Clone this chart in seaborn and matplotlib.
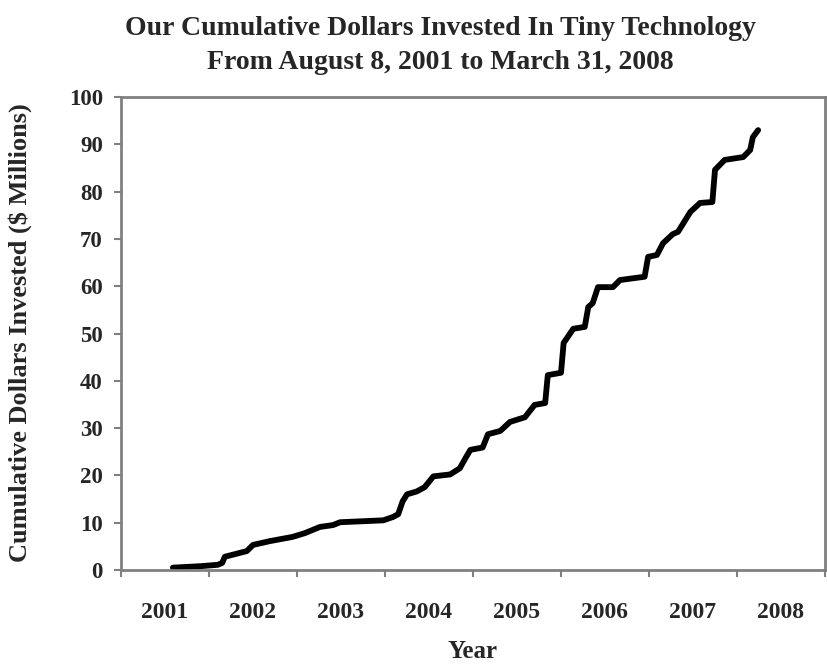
import matplotlib
matplotlib.use("Agg")
import matplotlib.pyplot as plt
import seaborn as sns
import pandas as pd

# cumulative dollars invested (year as decimal, $ millions)
years = [2001.59, 2001.90, 2002.10, 2002.15, 2002.18, 2002.43, 2002.50, 2002.69,
         2002.95, 2003.09, 2003.26, 2003.41, 2003.49, 2003.98, 2004.09, 2004.15,
         2004.20, 2004.25, 2004.36, 2004.45, 2004.55, 2004.74, 2004.85, 2004.91,
         2004.97, 2005.11, 2005.17, 2005.31, 2005.42, 2005.59, 2005.70, 2005.82,
         2005.85, 2006.00, 2006.03, 2006.14, 2006.27, 2006.31, 2006.36, 2006.42,
         2006.59, 2006.67, 2006.95, 2006.99, 2007.09, 2007.16, 2007.27, 2007.33,
         2007.47, 2007.58, 2007.72, 2007.75, 2007.86, 2008.07, 2008.15, 2008.18,
         2008.24]
invested = [0.5, 0.8, 1.1, 1.5, 2.8, 4.0, 5.3, 6.1,
            7.0, 7.8, 9.1, 9.5, 10.1, 10.5, 11.2, 11.8,
            14.5, 16.0, 16.6, 17.5, 19.8, 20.2, 21.5, 23.5,
            25.4, 25.9, 28.7, 29.4, 31.3, 32.3, 34.9, 35.3,
            41.2, 41.7, 48.0, 51.0, 51.4, 55.6, 56.4, 59.8,
            59.8, 61.3, 62.0, 66.2, 66.6, 69.1, 71.0, 71.5,
            75.7, 77.6, 77.8, 84.6, 86.7, 87.3, 88.8, 91.5,
            93.0]
year_labels = ['2001', '2002', '2003', '2004', '2005', '2006', '2007', '2008']

sns.set_style('white')
plt.rcParams['font.family'] = ['Liberation Serif', 'DejaVu Serif']
plt.rcParams['font.weight'] = 'bold'

df = pd.DataFrame({'Year': years, 'Invested': invested})

fig = plt.figure(figsize=(8.27, 6.66), dpi=100)
ax = fig.add_axes([121 / 827, 96 / 666, 704 / 827, 473 / 666])

sns.lineplot(data=df, x='Year', y='Invested', color='black', linewidth=4.2,
             ax=ax, solid_capstyle='round', solid_joinstyle='round')

ax.set_xlim(2001, 2009)
ax.set_ylim(0, 100)

# year labels sit between the tick marks
ax.set_xticks(range(2001, 2010))
ax.set_xticklabels([])
ax.set_xticks([y + 0.5 for y in range(2001, 2009)], minor=True)
ax.set_xticklabels(year_labels, minor=True)
ax.tick_params(axis='x', which='minor', length=0, pad=23, labelsize=17)
ax.tick_params(axis='x', which='major', bottom=True, length=5, width=1.5,
               color='#808080', direction='out')

ax.set_yticks(range(0, 101, 10))
ax.tick_params(axis='y', left=True, length=5, width=1.5, color='#808080',
               direction='out', labelsize=16.5, pad=8)

for s in ax.spines.values():
    s.set_color('#808080')
    s.set_linewidth(2)

ax.set_xlabel('')
ax.set_ylabel('')

fig.text(440 / 827, 1 - 35 / 666, 'Our Cumulative Dollars Invested In Tiny Technology',
         ha='center', va='baseline', fontsize=20, fontweight='bold')
fig.text(440 / 827, 1 - 69 / 666, 'From August 8, 2001 to March 31, 2008',
         ha='center', va='baseline', fontsize=20, fontweight='bold')
fig.text(20 / 827, 1 - 333 / 666, 'Cumulative Dollars Invested ($ Millions)',
         ha='center', va='center', rotation=90, fontsize=19, fontweight='bold')
fig.text(473 / 827, 1 - 652 / 666, 'Year',
         ha='center', va='center', fontsize=18, fontweight='bold')

fig.savefig('out.png', dpi=100)
